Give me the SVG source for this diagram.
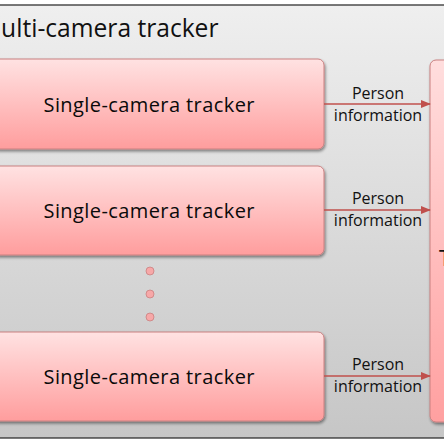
<svg xmlns="http://www.w3.org/2000/svg" width="444" height="444" viewBox="0 0 444 444">
<defs>
<linearGradient id="bg" x1="0" y1="0" x2="0" y2="1">
<stop offset="0" stop-color="#efefef"/>
<stop offset="1" stop-color="#c6c6c6"/>
</linearGradient>
<linearGradient id="pink" x1="0" y1="0" x2="0" y2="1">
<stop offset="0" stop-color="#ffe2e2"/>
<stop offset="1" stop-color="#ff9d9d"/>
</linearGradient>
<linearGradient id="pinkTall" x1="0" y1="0" x2="0" y2="1">
<stop offset="0" stop-color="#ffdede"/>
<stop offset="1" stop-color="#ffa0a0"/>
</linearGradient>
<filter id="sh" x="-10%" y="-10%" width="120%" height="130%">
<feGaussianBlur in="SourceAlpha" stdDeviation="1.5"/>
<feOffset dx="1" dy="2" result="b"/>
<feComponentTransfer><feFuncA type="linear" slope="0.45"/></feComponentTransfer>
<feMerge><feMergeNode/><feMergeNode in="SourceGraphic"/></feMerge>
</filter>
<marker id="arr" markerWidth="10" markerHeight="8" refX="9" refY="4" orient="auto" markerUnits="userSpaceOnUse">
<path d="M0,0 L10,4 L0,8 Z" fill="#c0504d"/>
</marker>
<style>
.box{fill:url(#pink);stroke:#c98080;stroke-width:1;filter:url(#sh);}
.lbl{font-family:"Open Sans","Noto Sans",sans-serif;font-size:20px;fill:#0a0a0a;text-anchor:middle;}
.info{font-family:"Open Sans","Noto Sans",sans-serif;font-size:16px;fill:#111;text-anchor:middle;}
.conn{stroke:#c0504d;stroke-width:1.5;fill:none;marker-end:url(#arr);}
.dot{fill:#f7a8a8;stroke:#c98080;stroke-width:0.8;}
</style>
</defs>
<g id="container">
<rect x="-10" y="5" width="470" height="433" fill="url(#bg)" stroke="#222" stroke-width="1.2"/>
<text x="-21" y="37" font-family="Open Sans, Noto Sans, sans-serif" font-size="24.6px" fill="#111">Multi-camera tracker</text>
</g>
<g id="tracker1">
<rect class="box" x="-8" y="59" width="332" height="90" rx="6"/>
<text class="lbl" x="149" y="112" textLength="211">Single-camera tracker</text>
</g>
<g id="tracker2">
<rect class="box" x="-8" y="166" width="332" height="89" rx="6"/>
<text class="lbl" x="149" y="218" textLength="211">Single-camera tracker</text>
</g>
<g id="dots">
<circle class="dot" cx="150" cy="271" r="4"/>
<circle class="dot" cx="150" cy="294" r="4"/>
<circle class="dot" cx="150" cy="317" r="4"/>
</g>
<g id="tracker3">
<rect class="box" x="-8" y="332" width="332" height="89" rx="6"/>
<text class="lbl" x="149" y="384" textLength="211">Single-camera tracker</text>
</g>
<g id="fusion">
<rect class="box" style="fill:url(#pinkTall)" x="430" y="60" width="40" height="362" rx="6"/>
<text x="439" y="266" font-family="Open Sans, Noto Sans, sans-serif" font-size="21px" fill="#111">T</text>
</g>
<g id="connectors">
<line class="conn" x1="324" y1="104" x2="430" y2="104"/>
<line class="conn" x1="324" y1="210" x2="430" y2="210"/>
<line class="conn" x1="324" y1="376" x2="430" y2="376"/>
<text class="info" x="378" y="99">Person</text>
<text class="info" x="378" y="121">information</text>
<text class="info" x="378" y="204">Person</text>
<text class="info" x="378" y="226">information</text>
<text class="info" x="378" y="370">Person</text>
<text class="info" x="378" y="392">information</text>
</g>
</svg>
